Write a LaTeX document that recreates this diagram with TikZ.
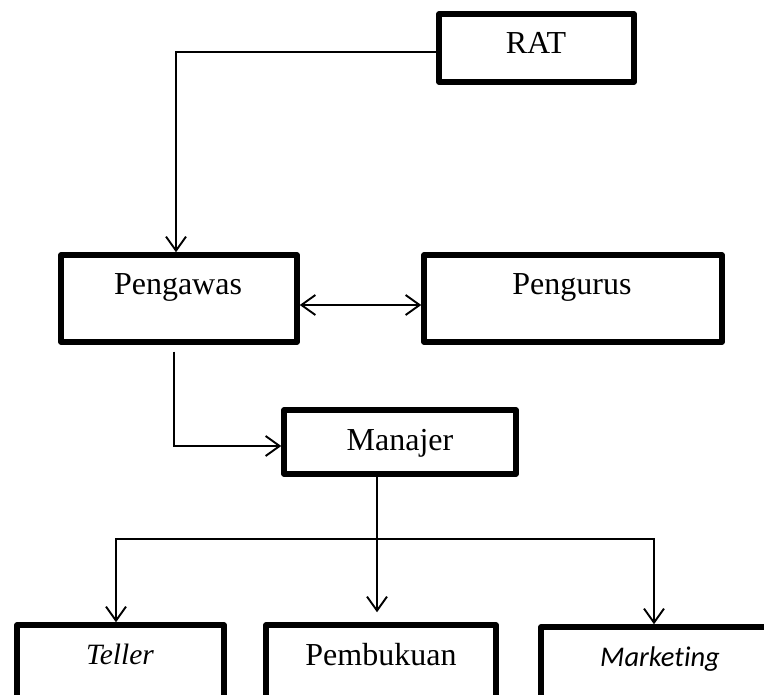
\documentclass[tikz,border=0pt]{standalone}
\usepackage{fontspec}
\setmainfont{Liberation Serif}
\newfontfamily\calib[Ligatures=NoCommon]{Carlito}
\usetikzlibrary{arrows.meta}
\tikzset{
  box/.style={draw=black, line width=5.5pt, fill=white, inner sep=0pt, line join=round},
  lbl/.style={anchor=base, inner sep=0pt, font=\fontsize{32}{36}\selectfont},
  conn/.style={draw=black, line width=1.9pt},
  tip/.style={-{Straight Barb[length=14pt,width=20pt,line width=1.9pt]}},
  tips/.style={{Straight Barb[length=14pt,width=20pt,line width=1.9pt]}-{Straight Barb[length=14pt,width=20pt,line width=1.9pt]}}
}
\begin{document}
\begin{tikzpicture}[x=1pt,y=-1pt]
\useasboundingbox (0,0) rectangle (764,695);
\clip (0,0) rectangle (764,695);
\fill[white] (0,0) rectangle (764,695);
% boxes
\node[box, minimum width=195pt, minimum height=68pt] (RAT) at (536.5,48) {};
\node[box, minimum width=236pt, minimum height=87pt] (Pengawas) at (179,298.5) {};
\node[box, minimum width=298pt, minimum height=87pt] (Pengurus) at (573,298.5) {};
\node[box, minimum width=232pt, minimum height=64pt] (Manajer) at (400,442) {};
\node[box, minimum width=207pt, minimum height=120pt] (Teller) at (120.5,685) {};
\node[box, minimum width=230pt, minimum height=120pt] (Pembukuan) at (381,685) {};
\node[box, minimum width=260pt, minimum height=120pt] (Marketing) at (671,687) {};
% labels
\node[lbl] (tRAT) at (536,54) {RAT};
\node[lbl] (tPengawas) at (178,295) {Pengawas};
\node[lbl] (tPengurus) at (572,295) {Pengurus};
\node[lbl] (tManajer) at (400,450) {Manajer};
\node[lbl, font=\fontsize{29.5}{34}\selectfont\itshape] (tTeller) at (120,664) {Teller};
\node[lbl] (tPembukuan) at (381,665) {Pembukuan};
\node[lbl, font=\fontsize{28.5}{34}\selectfont\calib\itshape] (tMarketing) at (660,666) {Marketing};
% connectors
\draw[conn, tip] ([yshift=-4pt]RAT.west) -| ([xshift=-3pt]Pengawas.north);
\draw[conn, tips] ([yshift=-6.5pt]Pengawas.east) -- ([yshift=-6.5pt]Pengurus.west);
\draw[conn, tip] ([xshift=-5pt,yshift=-7pt]Pengawas.south) |- ([yshift=-4pt]Manajer.west);
\draw[conn, tip] ([xshift=-23pt]Manajer.south) -- ([xshift=-4pt,yshift=10pt]Pembukuan.north);
\coordinate (forkC) at (377,539);
\draw[conn, tip] (forkC) -| ([xshift=-4.5pt]Teller.north);
\draw[conn, tip] (forkC) -| ([xshift=-17pt]Marketing.north);
\end{tikzpicture}
\end{document}
